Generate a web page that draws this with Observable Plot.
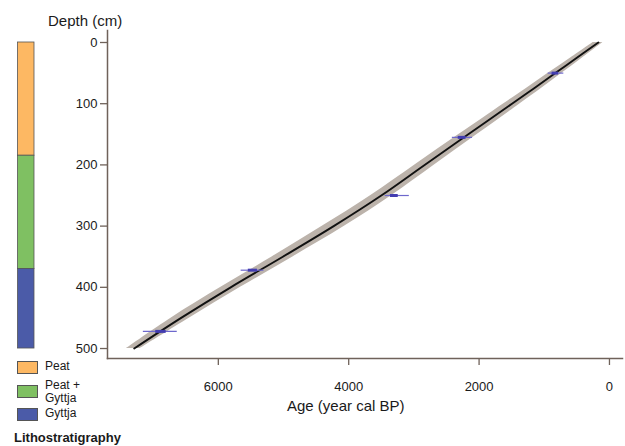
<!DOCTYPE html>
<html><head><meta charset="utf-8">
<script src="https://cdn.jsdelivr.net/npm/d3@7"></script>
<script src="https://cdn.jsdelivr.net/npm/@observablehq/plot@0.6"></script>
<style>
html,body{margin:0;padding:0;background:#fff;}
#wrap{position:relative;width:625px;height:446px;font-family:"Liberation Sans",Arial,sans-serif;color:#1a1a1a;overflow:hidden;}
#wrap svg{position:absolute;left:0;top:0;}
.abs{position:absolute;white-space:nowrap;}
</style></head><body><div id="wrap"></div>
<script>
// ---- data ----
const depthTicks = [0, 100, 200, 300, 400, 500];
const ageTicks = [6000, 4000, 2000, 0];

const modelDepth = [0, 25, 50, 75, 100, 150, 200, 250, 300, 350, 400, 450, 500];
const modelAge   = [170, 500, 830, 1160, 1495, 2165, 2835, 3500, 4230, 5010, 5810, 6570, 7290];
const modelYoung = [100, 410, 725, 1045, 1370, 2025, 2685, 3340, 4060, 4850, 5660, 6440, 7200];
const modelOld   = [250, 590, 935, 1275, 1620, 2305, 2985, 3660, 4400, 5170, 5960, 6720, 7410];

const dateDepth   = [50, 155, 250, 372, 472];
const dateMin     = [700, 2100, 3070, 5300, 6630];
const dateMax     = [940, 2410, 3440, 5650, 7150];
const dateCoreMin = [780, 2200, 3240, 5400, 6800];
const dateCoreMax = [880, 2320, 3360, 5540, 6960];

const lithoUnits  = ["Peat", "Peat + Gyttja", "Gyttja"];
const lithoTop    = [0, 185, 370];
const lithoBottom = [185, 370, 500];
const lithoColors = ["#fdb863", "#7fc062", "#4b5ba8"];
const legendLabels = [["Peat"], ["Peat +", "Gyttja"], ["Gyttja"]];
const legendTitle = "Lithostratigraphy";
const xLabel = "Age (year cal BP)";
const yLabel = "Depth (cm)";

// ---- tables ----
const model = modelDepth.map((d, i) => ({depth: d, age: modelAge[i], young: modelYoung[i], old: modelOld[i]}));
const dates = dateDepth.map((d, i) => ({depth: d, min: dateMin[i], max: dateMax[i], cmin: dateCoreMin[i], cmax: dateCoreMax[i]}));
const litho = lithoUnits.map((u, i) => ({unit: u, top: lithoTop[i], bottom: lithoBottom[i]}));

const axisColor = "#6f625a";
const yScale = {domain: [-19.6, 516.3], reverse: true};

const wrap = document.getElementById("wrap");

const main = Plot.plot({
  width: 625, height: 446,
  marginLeft: 107, marginRight: 3, marginTop: 30, marginBottom: 88,
  style: {fontFamily: '"Liberation Sans", Arial, sans-serif', fontSize: "13px", background: "transparent", color: "#1a1a1a"},
  x: {domain: [7700, -200]},
  y: yScale,
  marks: [
    Plot.areaX(model, {y: "depth", x1: "young", x2: "old", fill: "#bcb3ab", curve: "catmull-rom"}),
    Plot.line(model, {x: "age", y: "depth", stroke: "#111", strokeWidth: 1.9, curve: "catmull-rom"}),
    Plot.ruleY(dates, {y: "depth", x1: "min", x2: "max", stroke: "#6d67cc", strokeWidth: 1.2}),
    Plot.ruleY(dates, {y: "depth", x1: "cmin", x2: "cmax", stroke: "#433db0", strokeWidth: 3}),
    Plot.axisY({ticks: depthTicks, tickSize: 7, tickPadding: 3, tickFormat: "d", label: null, stroke: axisColor, strokeWidth: 1.3, fill: "#1a1a1a"}),
    Plot.axisX({ticks: ageTicks, tickSize: 7, tickPadding: 16, tickFormat: "d", label: null, stroke: axisColor, strokeWidth: 1.3, fill: "#1a1a1a"}),
    Plot.frame({anchor: "left", stroke: axisColor, strokeWidth: 1.5}),
    Plot.frame({anchor: "bottom", stroke: axisColor, strokeWidth: 1.5})
  ]
});
wrap.appendChild(main);

const column = Plot.plot({
  width: 40, height: 446,
  marginLeft: 0, marginRight: 0, marginTop: 30, marginBottom: 88,
  style: {background: "transparent"},
  x: {domain: [0, 1], range: [17.5, 34], axis: null},
  y: {...yScale, axis: null},
  color: {domain: lithoUnits, range: lithoColors},
  marks: [
    Plot.rect(litho, {x1: 0, x2: 1, y1: "top", y2: "bottom", fill: "unit", stroke: "#555", strokeWidth: 0.8})
  ]
});
wrap.appendChild(column);

function addText(txt, left, top, css) {
  const d = document.createElement("div");
  d.className = "abs";
  d.textContent = txt;
  d.style.left = left + "px";
  d.style.top = top + "px";
  Object.assign(d.style, css);
  wrap.appendChild(d);
  return d;
}
addText(yLabel, 48, 13, {fontSize: "15px", lineHeight: "15px"});
addText(xLabel, 287, 398, {fontSize: "15px", lineHeight: "15px"});

const swatchTops = [361, 385, 408];
legendLabels.forEach((lines, i) => {
  const s = document.createElement("div");
  s.className = "abs";
  Object.assign(s.style, {left: "17px", top: swatchTops[i] + "px", width: "19px", height: "11px",
    background: lithoColors[i], border: "1px solid #555"});
  wrap.appendChild(s);
  lines.forEach((ln, j) => {
    addText(ln, 45, swatchTops[i] - 1 - (lines.length > 1 ? 5 : 0) + j * 13, {fontSize: "12px", lineHeight: "13px"});
  });
});
addText(legendTitle, 14, 430, {fontSize: "13px", lineHeight: "15px", fontWeight: "bold"});
</script></body></html>
